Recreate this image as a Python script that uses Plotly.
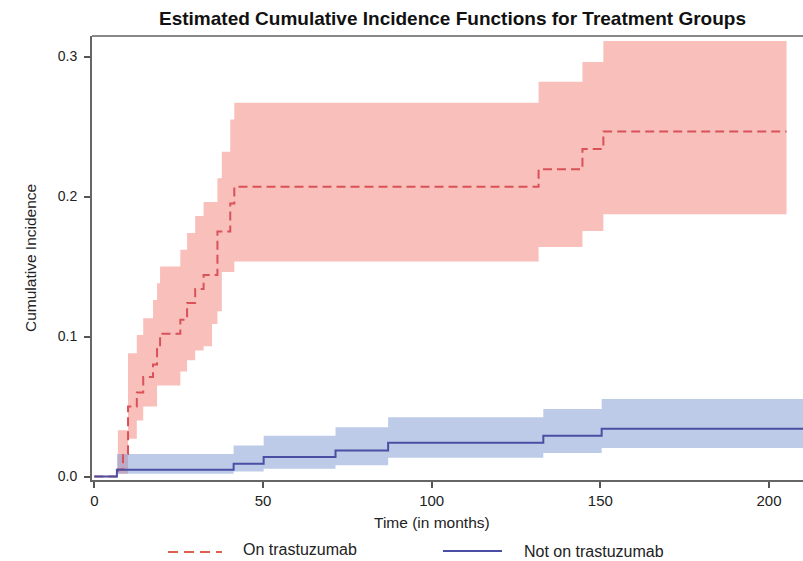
import plotly.graph_objects as go

# ---- data ----
t_on = [0, 7.0, 8.5, 10.0, 12.6, 14.5, 17.4, 18.6, 19.5, 25.5, 27.5, 29.9, 32.4, 34.9,
        36.5, 37.8, 40.3, 41.5, 131.7, 144.7, 150.9, 205.2]
cif_on = [0, 0.005, 0.016, 0.050, 0.060, 0.071, 0.080, 0.091, 0.102, 0.112, 0.124, 0.134,
          0.144, 0.144, 0.175, 0.175, 0.195, 0.207, 0.2195, 0.234, 0.2465, 0.2465]
lo_on = [0, 0.002, 0.002, 0.027, 0.040, 0.050, 0.050, 0.065, 0.065, 0.075, 0.083, 0.090,
         0.093, 0.109, 0.118, 0.146, 0.146, 0.1535, 0.164, 0.1754, 0.1873, 0.1873]
hi_on = [0, 0.033, 0.033, 0.088, 0.101, 0.113, 0.126, 0.138, 0.150, 0.162, 0.174, 0.186,
         0.196, 0.196, 0.213, 0.232, 0.255, 0.267, 0.282, 0.296, 0.311, 0.311]

t_off = [0, 6.7, 41.3, 50.2, 71.5, 87.1, 133.1, 150.4, 215]
cif_off = [0, 0.0048, 0.0091, 0.0139, 0.0186, 0.0241, 0.0291, 0.0341, 0.0341]
lo_off = [0, 0.002, 0.0036, 0.0055, 0.008, 0.0134, 0.0167, 0.0203, 0.0203]
hi_off = [0, 0.016, 0.0222, 0.0291, 0.0351, 0.0424, 0.0482, 0.0554, 0.0554]

x_ticks = [0, 50, 100, 150, 200]
y_ticks = [0.0, 0.1, 0.2, 0.3]
labels = ["On trastuzumab", "Not on trastuzumab"]

RED_FILL = "rgba(243,128,118,0.5)"
BLUE_FILL = "rgba(125,152,210,0.5)"
RED_LINE = "#D9525A"
BLUE_LINE = "#4B4FA3"
FONT = "Liberation Sans, Arial, sans-serif"

fig = go.Figure()

def band(t, lo, hi, color):
    fig.add_trace(go.Scatter(x=t, y=lo, mode="lines", line=dict(width=0, shape="hv"),
                             showlegend=False, hoverinfo="skip"))
    fig.add_trace(go.Scatter(x=t, y=hi, mode="lines", line=dict(width=0, shape="hv"),
                             fill="tonexty", fillcolor=color, showlegend=False, hoverinfo="skip"))

band(t_on, lo_on, hi_on, RED_FILL)
band(t_off, lo_off, hi_off, BLUE_FILL)

fig.add_trace(go.Scatter(x=t_on, y=cif_on, mode="lines", name=labels[0],
                         line=dict(color=RED_LINE, width=2, shape="hv", dash="9px,5px"),
                         showlegend=False))
fig.add_trace(go.Scatter(x=t_off, y=cif_off, mode="lines", name=labels[1],
                         line=dict(color=BLUE_LINE, width=2, shape="hv"),
                         showlegend=False))

# geometry
L, T, B = 92, 36, 81
W, H = 803, 561
pw, ph = W - L, H - T - B
def px(xp):
    return (xp - L) / pw
def py(yp):
    return (H - B - yp) / ph

fig.update_layout(
    width=W, height=H,
    margin=dict(l=L, r=0, t=T, b=B, pad=0),
    paper_bgcolor="white", plot_bgcolor="white",
    font=dict(family=FONT, color="#222", size=14),
    title=dict(text="<b>Estimated Cumulative Incidence Functions for Treatment Groups</b>",
               x=px(452.5), xref="paper", xanchor="center",
               y=1 - 18 / H, yref="container", yanchor="middle",
               font=dict(family=FONT, size=19, color="#111")),
    showlegend=False,
)
fig.update_xaxes(range=[(L - 94.3) / 3.3735, (W - 94.3) / 3.3735],
                 tickvals=x_ticks, ticks="outside", ticklen=6, tickwidth=1.5,
                 tickcolor="#555", showline=True, linecolor="#666", linewidth=2,
                 showgrid=False, zeroline=False, tickfont=dict(size=15, color="#222"))
fig.update_yaxes(range=[-(480 - 476.5) / 1400, (476.5 - 36) / 1400],
                 tickvals=y_ticks, tickformat=".1f", ticks="outside", ticklen=6, tickwidth=1.5,
                 tickcolor="#555", showline=True, linecolor="#666", linewidth=2,
                 showgrid=False, zeroline=False, ticklabelstandoff=4,
                 tickfont=dict(size=14, color="#222"))

# top frame line
fig.add_shape(type="line", xref="paper", yref="paper", x0=0, x1=1, y0=1, y1=1,
              line=dict(color="#888", width=2))

# axis titles
fig.add_annotation(text="Cumulative Incidence", xref="paper", yref="paper",
                   x=px(30), y=0.5, textangle=-90, showarrow=False,
                   xanchor="center", yanchor="middle", font=dict(size=15.5, color="#222"))
fig.add_annotation(text="Time (in months)", xref="paper", yref="paper",
                   x=px(432), y=py(522), showarrow=False,
                   xanchor="center", yanchor="middle", font=dict(size=15.5, color="#222"))

# legend (manual)
fig.add_shape(type="line", xref="paper", yref="paper", x0=px(168), x1=px(222),
              y0=py(552), y1=py(552), line=dict(color="#E0604F", width=2, dash="10px,6px"))
fig.add_annotation(text=labels[0], xref="paper", yref="paper", x=px(241), y=py(549),
                   showarrow=False, xanchor="left", yanchor="middle",
                   font=dict(size=16, color="#222"))
fig.add_shape(type="line", xref="paper", yref="paper", x0=px(443), x1=px(502),
              y0=py(551), y1=py(551), line=dict(color=BLUE_LINE, width=2))
fig.add_annotation(text=labels[1], xref="paper", yref="paper", x=px(522), y=py(551),
                   showarrow=False, xanchor="left", yanchor="middle",
                   font=dict(size=16, color="#222"))

fig.write_html("out.html")
